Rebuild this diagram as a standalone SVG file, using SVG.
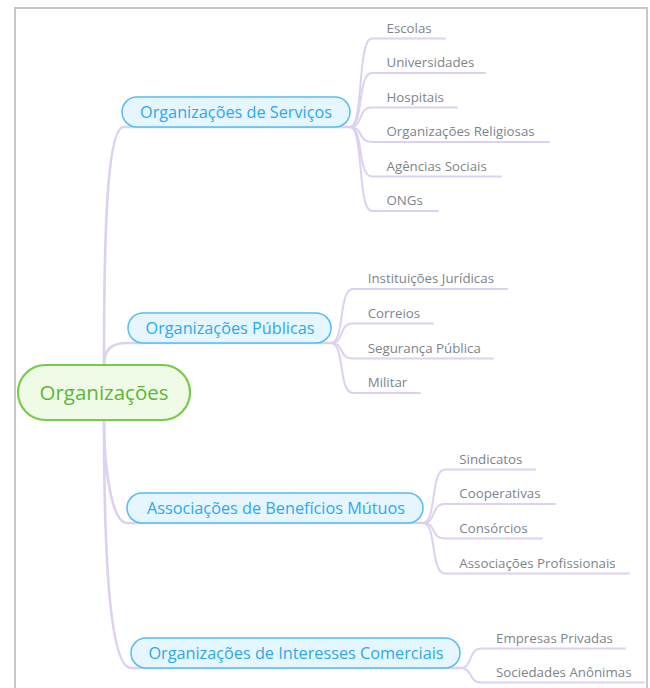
<svg xmlns="http://www.w3.org/2000/svg" width="650" height="688" viewBox="0 0 650 688">
<style>
.frame{fill:#ffffff;stroke:#c8c8c8;stroke-width:2}
.conn path{fill:none;stroke:#ddd0f1;stroke-linecap:round}
.trunk{stroke-width:2.6}
.br{stroke-width:2}
.root rect{fill:#effbe7;stroke:#74cc48;stroke-width:2.2}
.root text{font-family:"Open Sans","DejaVu Sans",sans-serif;font-size:20.5px;fill:#5db636;text-anchor:middle}
.main rect{fill:#e6f6fe;stroke:#55bdf3;stroke-width:1.5}
.main text{font-family:"Open Sans","DejaVu Sans",sans-serif;font-size:16.25px;fill:#2ca8ee;text-anchor:middle}
.leaf text{font-family:"Open Sans","DejaVu Sans",sans-serif;font-size:13.3px;fill:#7d848c}
</style>
<rect class="frame" x="15" y="8" width="632" height="700"/>
<g id="connectors" class="conn">
  <path class="trunk" d="M104,366 C104,230 107,127 124,127 L350,127"/>
  <path class="trunk" d="M104,366 C104,350 110,343 128,343 L331,343"/>
  <path class="trunk" d="M104,420 C104,470 112,523 127,523 L423,523"/>
  <path class="trunk" d="M104,420 C104,560 110,668 131,668 L460,668"/>
  <path class="br" d="M350,127 C364,127 357,38.5 372,38.5 L445,38.5"/>
  <path class="br" d="M350,127 C364,127 357,73 372,73 L485,73"/>
  <path class="br" d="M350,127 C364,127 357,107.5 372,107.5 L457,107.5"/>
  <path class="br" d="M350,127 C364,127 357,142 372,142 L549,142"/>
  <path class="br" d="M350,127 C364,127 357,176.5 372,176.5 L501,176.5"/>
  <path class="br" d="M350,127 C364,127 357,211 372,211 L438,211"/>
  <path class="br" d="M331,343 C345,343 338,289 353,289 L507,289"/>
  <path class="br" d="M331,343 C345,343 338,323.5 353,323.5 L433,323.5"/>
  <path class="br" d="M331,343 C345,343 338,358.5 353,358.5 L493,358.5"/>
  <path class="br" d="M331,343 C345,343 338,393 353,393 L420,393"/>
  <path class="br" d="M423,523 C437,523 430,469.5 445,469.5 L535,469.5"/>
  <path class="br" d="M423,523 C437,523 430,504 445,504 L555,504"/>
  <path class="br" d="M423,523 C437,523 430,538.5 445,538.5 L542,538.5"/>
  <path class="br" d="M423,523 C437,523 430,573.5 445,573.5 L629,573.5"/>
  <path class="br" d="M460,668 C474,668 467,648.5 482,648.5 L625,648.5"/>
  <path class="br" d="M460,668 C474,668 467,682.5 482,682.5 L644,682.5"/>
</g>
<g id="root" class="root">
  <rect x="18" y="365" width="172" height="55" rx="27.5"/>
  <text x="104" y="400">Organizações</text>
</g>
<g id="servicos" class="main">
  <rect x="122" y="97" width="228" height="30" rx="15"/>
  <text x="236" y="117.5">Organizações de Serviços</text>
</g>
<g id="publicas" class="main">
  <rect x="128" y="313" width="203" height="30" rx="15"/>
  <text x="230" y="333.5">Organizações Públicas</text>
</g>
<g id="associacoes" class="main">
  <rect x="127" y="493" width="296" height="30" rx="15"/>
  <text x="276" y="513.5">Associações de Benefícios Mútuos</text>
</g>
<g id="comerciais" class="main">
  <rect x="131" y="638" width="329" height="30" rx="15"/>
  <text x="296" y="658.5">Organizações de Interesses Comerciais</text>
</g>
<g id="escolas" class="leaf"><text x="386.5" y="32.5">Escolas</text></g>
<g id="universidades" class="leaf"><text x="386.5" y="67">Universidades</text></g>
<g id="hospitais" class="leaf"><text x="386.5" y="101.5">Hospitais</text></g>
<g id="religiosas" class="leaf"><text x="386.5" y="136">Organizações Religiosas</text></g>
<g id="agencias" class="leaf"><text x="386.5" y="170.5">Agências Sociais</text></g>
<g id="ongs" class="leaf"><text x="386.5" y="205">ONGs</text></g>
<g id="juridicas" class="leaf"><text x="367.7" y="283">Instituições Jurídicas</text></g>
<g id="correios" class="leaf"><text x="367.7" y="317.5">Correios</text></g>
<g id="seguranca" class="leaf"><text x="367.7" y="352.5">Segurança Pública</text></g>
<g id="militar" class="leaf"><text x="367.7" y="387">Militar</text></g>
<g id="sindicatos" class="leaf"><text x="459.3" y="463.5">Sindicatos</text></g>
<g id="cooperativas" class="leaf"><text x="459.3" y="498">Cooperativas</text></g>
<g id="consorcios" class="leaf"><text x="459.3" y="532.5">Consórcios</text></g>
<g id="profissionais" class="leaf"><text x="459.3" y="567.5">Associações Profissionais</text></g>
<g id="empresas" class="leaf"><text x="496" y="642.5">Empresas Privadas</text></g>
<g id="sociedades" class="leaf"><text x="496" y="676.5">Sociedades Anônimas</text></g>
</svg>
